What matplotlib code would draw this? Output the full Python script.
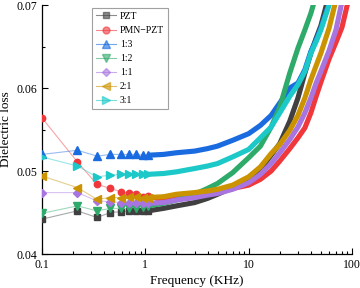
import numpy as np
import matplotlib
matplotlib.use('Agg')
import matplotlib.pyplot as plt
from matplotlib.ticker import MultipleLocator, LogLocator, NullFormatter

plt.rcParams['font.family'] = ['Liberation Serif', 'DejaVu Serif']

# low-frequency points (drawn with markers)
freq_low = [0.1, 0.22, 0.34, 0.46, 0.58, 0.70, 0.82, 0.94, 1.06]
# dense measured region (drawn as a thick band)
freq_high = [1.06, 1.5, 2, 3, 4, 5, 7, 10, 13, 16.5, 20, 25, 30, 35, 40, 45, 50, 60, 70, 80, 90, 100]

labels = ['PZT', 'PMN\u2212PZT', '1:3', '1:2', '1:1', '2:1', '3:1']
colors = ['#404040', '#F0383C', '#1A6BE0', '#2EAA6A', '#A875E0', '#CC9300', '#1CC8C8']
markers = ['s', 'o', '^', 'v', 'D', '<', '>']

pzt_low = [0.0442, 0.0452, 0.0444, 0.0450, 0.0451, 0.0452, 0.0452, 0.0452, 0.0452]
pmn_low = [0.0564, 0.0511, 0.0484, 0.0479, 0.0475, 0.0473, 0.0472, 0.0469, 0.0470]
r13_low = [0.0520, 0.0525, 0.0518, 0.0520, 0.0520, 0.0520, 0.0520, 0.0519, 0.0519]
r12_low = [0.0449, 0.0458, 0.0452, 0.0455, 0.0455, 0.0455, 0.0456, 0.0457, 0.0458]
r11_low = [0.0474, 0.0474, 0.0464, 0.0463, 0.0462, 0.0462, 0.0461, 0.0461, 0.0461]
r21_low = [0.0494, 0.0480, 0.0466, 0.0468, 0.0468, 0.0469, 0.0469, 0.0468, 0.0468]
r31_low = [0.0517, 0.0506, 0.0493, 0.0495, 0.0496, 0.0497, 0.0497, 0.0496, 0.0496]

pzt_high = [0.0452, 0.0455, 0.0458, 0.0462, 0.0467, 0.0472, 0.0480, 0.0488, 0.0502, 0.0519, 0.0533,
            0.0560, 0.0588, 0.0618, 0.0642, 0.0660, 0.0675, 0.0712, 0.0745, 0.0770, 0.0790, 0.0810]
pmn_high = [0.0470, 0.0465, 0.0468, 0.0471, 0.0473, 0.0475, 0.0479, 0.0483, 0.0490, 0.0500, 0.0512,
            0.0527, 0.0540, 0.0552, 0.0570, 0.0590, 0.0607, 0.0635, 0.0655, 0.0673, 0.0700, 0.0725]
r13_high = [0.0519, 0.0520, 0.0522, 0.0524, 0.0527, 0.0530, 0.0537, 0.0545, 0.0555, 0.0567, 0.0582,
            0.0600, 0.0606, 0.0622, 0.0644, 0.0658, 0.0672, 0.0702, 0.0735, 0.0760, 0.0780, 0.0800]
r12_high = [0.0458, 0.0461, 0.0465, 0.0472, 0.0479, 0.0485, 0.0498, 0.0516, 0.0530, 0.0553, 0.0577,
            0.0618, 0.0648, 0.0670, 0.0690, 0.0712, 0.0735, 0.0770, 0.0800, 0.0820, 0.0840, 0.0850]
r11_high = [0.0461, 0.0462, 0.0465, 0.0468, 0.0471, 0.0473, 0.0478, 0.0486, 0.0496, 0.0509, 0.0522,
            0.0538, 0.0553, 0.0570, 0.0588, 0.0606, 0.0620, 0.0645, 0.0670, 0.0704, 0.0735, 0.0760]
r21_high = [0.0468, 0.0469, 0.0472, 0.0474, 0.0476, 0.0478, 0.0483, 0.0493, 0.0505, 0.0521, 0.0532,
            0.0549, 0.0567, 0.0588, 0.0610, 0.0627, 0.0642, 0.0672, 0.0706, 0.0740, 0.0770, 0.0800]
r31_high = [0.0496, 0.0497, 0.0499, 0.0503, 0.0506, 0.0509, 0.0517, 0.0526, 0.0540, 0.0553, 0.0570,
            0.0590, 0.0604, 0.0620, 0.0642, 0.0656, 0.0670, 0.0700, 0.0730, 0.0760, 0.0780, 0.0800]

lows = [pzt_low, pmn_low, r13_low, r12_low, r11_low, r21_low, r31_low]
highs = [pzt_high, pmn_high, r13_high, r12_high, r11_high, r21_high, r31_high]

fig = plt.figure(figsize=(3.6, 2.88), dpi=100)
ax = fig.add_axes([0.1167, 0.118, 0.861, 0.8646])

for lab, c, m, lo, hi in zip(labels, colors, markers, lows, highs):
    ms = 4.6 if m in ('s', 'o') else 5.3
    if m == 'D':
        ms = 4.1
    ax.plot(freq_high, hi, color=c, lw=3.7, solid_capstyle='butt', solid_joinstyle='round', zorder=2)
    ax.plot(freq_low, lo, color=c, lw=0.8, alpha=0.45, zorder=3)
    ax.plot(freq_low, lo, color=c, lw=0, marker=m, ms=ms, mec=c, zorder=4)
    ax.plot([], [], color=c, lw=0.8, alpha=0.6, marker=m, ms=ms + 0.4, mec=c, label=lab)

ax.set_xscale('log')
ax.set_xlim(0.1, 100)
ax.set_ylim(0.04, 0.07)
ax.set_xticks([0.1, 1, 10, 100])
ax.set_xticklabels(['0.1', '1', '10', '100'])
ax.xaxis.set_minor_locator(LogLocator(base=10, subs=np.arange(2, 10)))
ax.xaxis.set_minor_formatter(NullFormatter())
ax.set_yticks([0.04, 0.05, 0.06, 0.07])
ax.set_yticklabels(['0.04', '0.05', '0.06', '0.07'])
ax.yaxis.set_minor_locator(MultipleLocator(0.005))

for s in ['top', 'right']:
    ax.spines[s].set_visible(False)
for s in ['left', 'bottom']:
    ax.spines[s].set_linewidth(0.9)
ax.tick_params(which='both', direction='in', labelsize=8.5, width=0.8)
ax.tick_params(which='major', length=4)
ax.tick_params(which='minor', length=2)

ax.set_xlabel('Frequency (KHz)', fontsize=9.5, labelpad=3)
ax.set_ylabel('Dielectric loss', fontsize=9.5, labelpad=3)

leg = ax.legend(loc='upper left', bbox_to_anchor=(0.162, 0.988), borderaxespad=0, fontsize=7,
                frameon=True, fancybox=False, edgecolor='#888888', handlelength=2.0,
                handletextpad=0.45, labelspacing=0.52, borderpad=0.4)
leg.get_frame().set_linewidth(0.8)

fig.savefig('out.png', dpi=100)
